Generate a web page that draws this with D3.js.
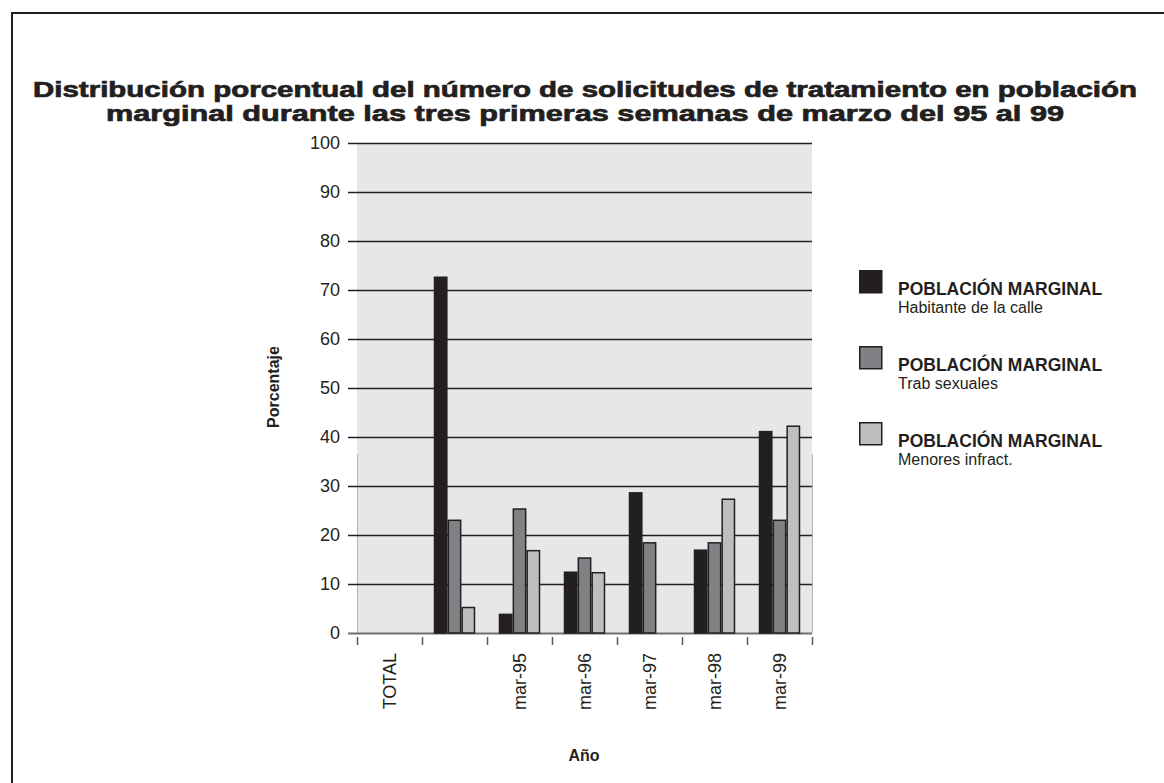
<!DOCTYPE html>
<html>
<head>
<meta charset="utf-8">
<script src="https://cdn.jsdelivr.net/npm/d3@7"></script>
<style>
  html, body { margin: 0; padding: 0; background: #fff; }
  svg { display: block; font-family: "Liberation Sans", Arial, Helvetica, sans-serif; }
</style>
</head>
<body>
<svg id="chart" width="1164" height="783"></svg>
<script>
// Categories on the x axis (second slot has no label)
const categories = ["TOTAL", "", "mar-95", "mar-96", "mar-97", "mar-98", "mar-99"];

// Percentages per series
const habitanteCalle  = [0, 72.6, 3.8, 12.4, 28.6, 16.9, 41.1];
const trabSexuales    = [0, 23.0, 25.3, 15.3, 18.4, 18.4, 23.0];
const menoresInfract  = [0, 5.2, 16.8, 12.3, 0, 27.3, 42.2];

const seriesNames = ["Habitante de la calle", "Trab sexuales", "Menores infract."];
const seriesValues = [habitanteCalle, trabSexuales, menoresInfract];
const seriesColors = ["#231f20", "#808184", "#bcbec0"];

const yTicks = [0, 10, 20, 30, 40, 50, 60, 70, 80, 90, 100];

const titleLines = [
  "Distribución porcentual del número de solicitudes de tratamiento en población",
  "marginal durante las tres primeras semanas de marzo del 95 al 99"
];
const titleWidths = [1104, 958];

const svg = d3.select("#chart");
const ink = "#231f20";

// Outer frame
svg.append("rect")
  .attr("x", 12).attr("y", 13)
  .attr("width", 1200).attr("height", 820)
  .attr("fill", "none").attr("stroke", ink).attr("stroke-width", 2);

// Title (heavy face, stretched to the frame's width)
svg.append("g").selectAll("text").data(titleLines).join("text")
  .attr("x", 585).attr("y", (d, i) => 97 + i * 24)
  .attr("text-anchor", "middle")
  .attr("font-size", 22).attr("font-weight", "bold")
  .attr("fill", ink).attr("stroke", ink).attr("stroke-width", 0.7)
  .attr("textLength", (d, i) => titleWidths[i])
  .attr("lengthAdjust", "spacingAndGlyphs")
  .text(d => d);

const plot = { left: 357, right: 812, top: 143, bottom: 633 };

const x0 = d3.scaleBand().domain(categories)
  .range([plot.left, plot.right]).paddingInner(0).paddingOuter(0);
const x1 = d3.scaleBand().domain(d3.range(seriesValues.length))
  .range([0, x0.bandwidth()]).paddingInner(0).paddingOuter(0.85);
const y = d3.scaleLinear().domain([0, 100]).range([plot.bottom, plot.top]);

// Plot background
svg.append("rect")
  .attr("x", plot.left).attr("y", plot.top)
  .attr("width", plot.right - plot.left).attr("height", plot.bottom - plot.top)
  .attr("fill", "#e6e7e8");

// Faint edge lines on the lower part of the plot
[plot.left, plot.right].forEach(px => {
  svg.append("line")
    .attr("x1", px + 0.5).attr("x2", px + 0.5)
    .attr("y1", y(36.5)).attr("y2", plot.bottom)
    .attr("stroke", "#b5b6b8").attr("stroke-width", 1);
});

// Gridlines with tick marks, via a left axis
const yAxis = d3.axisLeft(y).tickValues(yTicks)
  .tickSize(-(plot.right - plot.left) - 9).tickPadding(8).tickFormat(d3.format("d"));
const gy = svg.append("g")
  .attr("transform", `translate(${plot.right},0)`)
  .call(yAxis);
gy.select(".domain").remove();
gy.selectAll(".tick line")
  .attr("x1", 0).attr("x2", -(plot.right - plot.left) - 9)
  .attr("stroke", d => d === 0 ? "#6d6e71" : ink)
  .attr("stroke-width", d => d === 0 ? 2.2 : 1.6);
gy.selectAll(".tick text")
  .attr("x", -(plot.right - plot.left) - 17)
  .attr("font-size", 18).attr("fill", ink)
  .attr("font-family", "'Liberation Sans', Arial, sans-serif");

// Bars
const groups = svg.append("g").selectAll("g").data(categories).join("g")
  .attr("transform", d => `translate(${x0(d)},0)`);
groups.selectAll("rect")
  .data((c, ci) => seriesValues.map((vals, si) => ({ si, v: vals[ci] })).filter(d => d.v > 0))
  .join("rect")
  .attr("x", d => x1(d.si) + 0.75)
  .attr("width", x1.bandwidth() - 1.5)
  .attr("y", d => y(d.v))
  .attr("height", d => y(0) - y(d.v))
  .attr("fill", d => seriesColors[d.si])
  .attr("stroke", ink)
  .attr("stroke-width", 1.5);

// X axis: boundary ticks and rotated labels
const boundaries = categories.map(c => x0(c)).concat([plot.right]);
svg.append("g").selectAll("line").data(boundaries).join("line")
  .attr("x1", d => d + 0.5).attr("x2", d => d + 0.5)
  .attr("y1", plot.bottom + 4).attr("y2", plot.bottom + 12)
  .attr("stroke", "#58595b").attr("stroke-width", 1.5);

const xAxis = d3.axisBottom(x0).tickSize(0).tickPadding(0);
const gx = svg.append("g").attr("transform", `translate(0,${plot.bottom})`).call(xAxis);
gx.select(".domain").remove();
gx.selectAll(".tick text")
  .attr("transform", "rotate(-90)")
  .attr("x", -20).attr("y", 0).attr("dy", "0.35em")
  .attr("text-anchor", "end")
  .attr("font-size", 18).attr("fill", ink)
  .attr("font-family", "'Liberation Sans', Arial, sans-serif");

// Axis titles
svg.append("text")
  .attr("transform", `translate(279,${(plot.top + plot.bottom) / 2 - 1}) rotate(-90)`)
  .attr("text-anchor", "middle")
  .attr("font-size", 16).attr("font-weight", "bold").attr("fill", ink)
  .text("Porcentaje");
svg.append("text")
  .attr("x", 584).attr("y", 761)
  .attr("text-anchor", "middle")
  .attr("font-size", 16).attr("font-weight", "bold").attr("fill", ink)
  .text("Año");

// Legend
const legend = svg.append("g").selectAll("g").data(seriesNames).join("g")
  .attr("transform", (d, i) => `translate(859,${270 + i * 76})`);
legend.append("rect")
  .attr("x", 0.75).attr("y", 0.75)
  .attr("width", 22).attr("height", 22)
  .attr("fill", (d, i) => seriesColors[i])
  .attr("stroke", ink).attr("stroke-width", 1.5);
legend.append("text")
  .attr("x", 39).attr("y", 25)
  .attr("font-size", 17.5).attr("font-weight", "bold").attr("fill", ink)
  .text("POBLACIÓN MARGINAL");
legend.append("text")
  .attr("x", 39).attr("y", 43)
  .attr("font-size", 16).attr("fill", ink)
  .text(d => d);
</script>
</body>
</html>
